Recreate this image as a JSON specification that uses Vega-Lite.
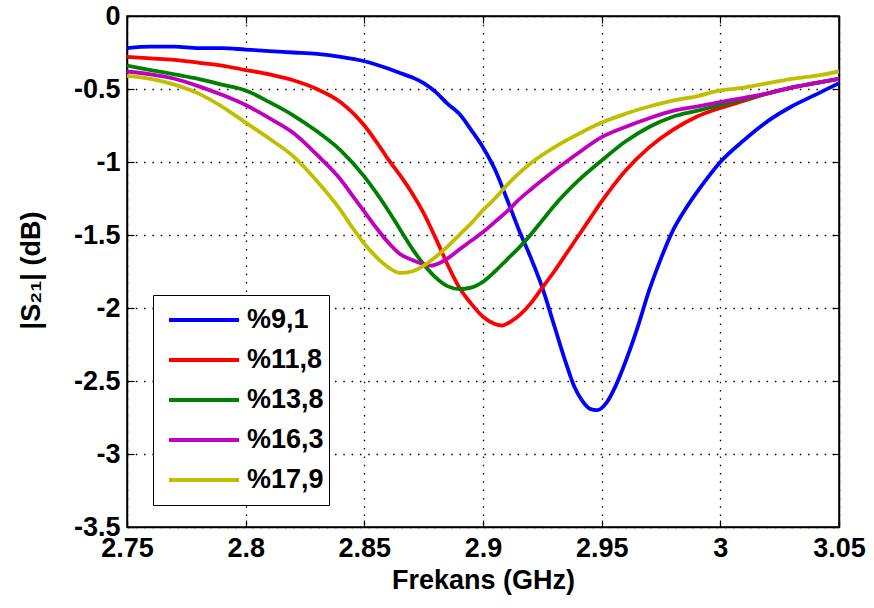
{
  "$schema": "https://vega.github.io/schema/vega-lite/v6.json",
  "width": 712,
  "height": 511,
  "autosize": "none",
  "padding": {"left": 127, "top": 16, "right": 35, "bottom": 81},
  "background": "white",
  "config": {
    "font": "Liberation Sans",
    "view": {"stroke": "#000", "strokeWidth": 1.5},
    "axis": {
      "domainColor": "#000",
      "domainWidth": 1.5,
      "tickColor": "#000",
      "tickWidth": 1.2,
      "labelColor": "#000",
      "titleColor": "#000",
      "labelFont": "Liberation Sans",
      "titleFont": "Liberation Sans",
      "labelFontSize": 27,
      "labelFontWeight": "bold",
      "titleFontSize": 27,
      "titleFontWeight": "bold",
      "gridColor": "#000",
      "gridOpacity": 1,
      "gridWidth": 1.3,
      "gridDash": [1.5, 6.8],
      "labelFlush": false,
      "labelOverlap": false
    }
  },
  "data": {
    "values": [
      {"s":"%9,1","f":2.75,"v":-0.22},{"s":"%9,1","f":2.76,"v":-0.21},{"s":"%9,1","f":2.77,"v":-0.21},{"s":"%9,1","f":2.78,"v":-0.22},{"s":"%9,1","f":2.79,"v":-0.22},{"s":"%9,1","f":2.8,"v":-0.23},{"s":"%9,1","f":2.81,"v":-0.24},{"s":"%9,1","f":2.82,"v":-0.25},{"s":"%9,1","f":2.83,"v":-0.26},{"s":"%9,1","f":2.84,"v":-0.28},{"s":"%9,1","f":2.85,"v":-0.31},{"s":"%9,1","f":2.86,"v":-0.36},{"s":"%9,1","f":2.865,"v":-0.39},{"s":"%9,1","f":2.87,"v":-0.42},{"s":"%9,1","f":2.875,"v":-0.46},{"s":"%9,1","f":2.88,"v":-0.52},{"s":"%9,1","f":2.885,"v":-0.6},{"s":"%9,1","f":2.89,"v":-0.67},{"s":"%9,1","f":2.895,"v":-0.78},{"s":"%9,1","f":2.9,"v":-0.9},{"s":"%9,1","f":2.905,"v":-1.05},{"s":"%9,1","f":2.91,"v":-1.25},{"s":"%9,1","f":2.915,"v":-1.46},{"s":"%9,1","f":2.92,"v":-1.65},{"s":"%9,1","f":2.925,"v":-1.86},{"s":"%9,1","f":2.93,"v":-2.12},{"s":"%9,1","f":2.935,"v":-2.38},{"s":"%9,1","f":2.9385,"v":-2.54},{"s":"%9,1","f":2.942,"v":-2.64},{"s":"%9,1","f":2.945,"v":-2.69},{"s":"%9,1","f":2.948,"v":-2.7},{"s":"%9,1","f":2.952,"v":-2.65},{"s":"%9,1","f":2.956,"v":-2.53},{"s":"%9,1","f":2.96,"v":-2.37},{"s":"%9,1","f":2.965,"v":-2.14},{"s":"%9,1","f":2.97,"v":-1.88},{"s":"%9,1","f":2.975,"v":-1.66},{"s":"%9,1","f":2.98,"v":-1.47},{"s":"%9,1","f":2.985,"v":-1.33},{"s":"%9,1","f":2.99,"v":-1.21},{"s":"%9,1","f":2.995,"v":-1.1},{"s":"%9,1","f":3.0,"v":-1.0},{"s":"%9,1","f":3.01,"v":-0.85},{"s":"%9,1","f":3.02,"v":-0.72},{"s":"%9,1","f":3.03,"v":-0.62},{"s":"%9,1","f":3.04,"v":-0.54},{"s":"%9,1","f":3.05,"v":-0.46},
      {"s":"%11,8","f":2.75,"v":-0.28},{"s":"%11,8","f":2.76,"v":-0.29},{"s":"%11,8","f":2.77,"v":-0.3},{"s":"%11,8","f":2.78,"v":-0.32},{"s":"%11,8","f":2.79,"v":-0.34},{"s":"%11,8","f":2.8,"v":-0.37},{"s":"%11,8","f":2.81,"v":-0.4},{"s":"%11,8","f":2.82,"v":-0.44},{"s":"%11,8","f":2.83,"v":-0.5},{"s":"%11,8","f":2.84,"v":-0.59},{"s":"%11,8","f":2.85,"v":-0.75},{"s":"%11,8","f":2.855,"v":-0.86},{"s":"%11,8","f":2.86,"v":-0.98},{"s":"%11,8","f":2.865,"v":-1.09},{"s":"%11,8","f":2.87,"v":-1.21},{"s":"%11,8","f":2.875,"v":-1.35},{"s":"%11,8","f":2.88,"v":-1.52},{"s":"%11,8","f":2.885,"v":-1.7},{"s":"%11,8","f":2.89,"v":-1.86},{"s":"%11,8","f":2.895,"v":-1.97},{"s":"%11,8","f":2.9,"v":-2.06},{"s":"%11,8","f":2.905,"v":-2.11},{"s":"%11,8","f":2.908,"v":-2.12},{"s":"%11,8","f":2.912,"v":-2.09},{"s":"%11,8","f":2.916,"v":-2.04},{"s":"%11,8","f":2.92,"v":-1.97},{"s":"%11,8","f":2.925,"v":-1.86},{"s":"%11,8","f":2.93,"v":-1.75},{"s":"%11,8","f":2.935,"v":-1.63},{"s":"%11,8","f":2.94,"v":-1.51},{"s":"%11,8","f":2.945,"v":-1.39},{"s":"%11,8","f":2.95,"v":-1.27},{"s":"%11,8","f":2.955,"v":-1.16},{"s":"%11,8","f":2.96,"v":-1.06},{"s":"%11,8","f":2.97,"v":-0.9},{"s":"%11,8","f":2.98,"v":-0.78},{"s":"%11,8","f":2.99,"v":-0.69},{"s":"%11,8","f":3.0,"v":-0.63},{"s":"%11,8","f":3.01,"v":-0.58},{"s":"%11,8","f":3.02,"v":-0.53},{"s":"%11,8","f":3.03,"v":-0.49},{"s":"%11,8","f":3.04,"v":-0.46},{"s":"%11,8","f":3.05,"v":-0.43},
      {"s":"%13,8","f":2.75,"v":-0.34},{"s":"%13,8","f":2.76,"v":-0.37},{"s":"%13,8","f":2.77,"v":-0.4},{"s":"%13,8","f":2.78,"v":-0.43},{"s":"%13,8","f":2.79,"v":-0.47},{"s":"%13,8","f":2.8,"v":-0.51},{"s":"%13,8","f":2.81,"v":-0.59},{"s":"%13,8","f":2.82,"v":-0.68},{"s":"%13,8","f":2.83,"v":-0.79},{"s":"%13,8","f":2.84,"v":-0.92},{"s":"%13,8","f":2.85,"v":-1.1},{"s":"%13,8","f":2.855,"v":-1.21},{"s":"%13,8","f":2.86,"v":-1.33},{"s":"%13,8","f":2.865,"v":-1.46},{"s":"%13,8","f":2.87,"v":-1.59},{"s":"%13,8","f":2.875,"v":-1.7},{"s":"%13,8","f":2.88,"v":-1.79},{"s":"%13,8","f":2.885,"v":-1.85},{"s":"%13,8","f":2.89,"v":-1.87},{"s":"%13,8","f":2.895,"v":-1.86},{"s":"%13,8","f":2.9,"v":-1.82},{"s":"%13,8","f":2.905,"v":-1.75},{"s":"%13,8","f":2.91,"v":-1.67},{"s":"%13,8","f":2.915,"v":-1.59},{"s":"%13,8","f":2.92,"v":-1.5},{"s":"%13,8","f":2.925,"v":-1.4},{"s":"%13,8","f":2.93,"v":-1.3},{"s":"%13,8","f":2.94,"v":-1.13},{"s":"%13,8","f":2.95,"v":-0.99},{"s":"%13,8","f":2.96,"v":-0.86},{"s":"%13,8","f":2.97,"v":-0.76},{"s":"%13,8","f":2.98,"v":-0.69},{"s":"%13,8","f":2.99,"v":-0.65},{"s":"%13,8","f":3.0,"v":-0.61},{"s":"%13,8","f":3.01,"v":-0.57},{"s":"%13,8","f":3.02,"v":-0.53},{"s":"%13,8","f":3.03,"v":-0.49},{"s":"%13,8","f":3.04,"v":-0.46},{"s":"%13,8","f":3.05,"v":-0.43},
      {"s":"%16,3","f":2.75,"v":-0.38},{"s":"%16,3","f":2.76,"v":-0.4},{"s":"%16,3","f":2.77,"v":-0.43},{"s":"%16,3","f":2.78,"v":-0.48},{"s":"%16,3","f":2.79,"v":-0.54},{"s":"%16,3","f":2.8,"v":-0.61},{"s":"%16,3","f":2.81,"v":-0.7},{"s":"%16,3","f":2.82,"v":-0.8},{"s":"%16,3","f":2.83,"v":-0.95},{"s":"%16,3","f":2.84,"v":-1.12},{"s":"%16,3","f":2.845,"v":-1.23},{"s":"%16,3","f":2.85,"v":-1.34},{"s":"%16,3","f":2.855,"v":-1.45},{"s":"%16,3","f":2.86,"v":-1.55},{"s":"%16,3","f":2.865,"v":-1.63},{"s":"%16,3","f":2.87,"v":-1.67},{"s":"%16,3","f":2.875,"v":-1.7},{"s":"%16,3","f":2.878,"v":-1.71},{"s":"%16,3","f":2.882,"v":-1.69},{"s":"%16,3","f":2.886,"v":-1.65},{"s":"%16,3","f":2.89,"v":-1.6},{"s":"%16,3","f":2.895,"v":-1.54},{"s":"%16,3","f":2.9,"v":-1.48},{"s":"%16,3","f":2.905,"v":-1.41},{"s":"%16,3","f":2.91,"v":-1.34},{"s":"%16,3","f":2.915,"v":-1.26},{"s":"%16,3","f":2.92,"v":-1.19},{"s":"%16,3","f":2.93,"v":-1.06},{"s":"%16,3","f":2.94,"v":-0.94},{"s":"%16,3","f":2.95,"v":-0.83},{"s":"%16,3","f":2.96,"v":-0.76},{"s":"%16,3","f":2.97,"v":-0.7},{"s":"%16,3","f":2.98,"v":-0.65},{"s":"%16,3","f":2.99,"v":-0.62},{"s":"%16,3","f":3.0,"v":-0.59},{"s":"%16,3","f":3.01,"v":-0.56},{"s":"%16,3","f":3.02,"v":-0.53},{"s":"%16,3","f":3.03,"v":-0.49},{"s":"%16,3","f":3.04,"v":-0.46},{"s":"%16,3","f":3.05,"v":-0.43},
      {"s":"%17,9","f":2.75,"v":-0.41},{"s":"%17,9","f":2.76,"v":-0.43},{"s":"%17,9","f":2.77,"v":-0.47},{"s":"%17,9","f":2.78,"v":-0.53},{"s":"%17,9","f":2.79,"v":-0.62},{"s":"%17,9","f":2.8,"v":-0.73},{"s":"%17,9","f":2.81,"v":-0.84},{"s":"%17,9","f":2.82,"v":-0.96},{"s":"%17,9","f":2.83,"v":-1.13},{"s":"%17,9","f":2.84,"v":-1.33},{"s":"%17,9","f":2.845,"v":-1.45},{"s":"%17,9","f":2.85,"v":-1.56},{"s":"%17,9","f":2.855,"v":-1.65},{"s":"%17,9","f":2.86,"v":-1.72},{"s":"%17,9","f":2.865,"v":-1.76},{"s":"%17,9","f":2.87,"v":-1.75},{"s":"%17,9","f":2.875,"v":-1.71},{"s":"%17,9","f":2.88,"v":-1.65},{"s":"%17,9","f":2.885,"v":-1.58},{"s":"%17,9","f":2.89,"v":-1.5},{"s":"%17,9","f":2.895,"v":-1.42},{"s":"%17,9","f":2.9,"v":-1.33},{"s":"%17,9","f":2.905,"v":-1.25},{"s":"%17,9","f":2.91,"v":-1.16},{"s":"%17,9","f":2.915,"v":-1.08},{"s":"%17,9","f":2.92,"v":-1.01},{"s":"%17,9","f":2.93,"v":-0.9},{"s":"%17,9","f":2.94,"v":-0.81},{"s":"%17,9","f":2.95,"v":-0.73},{"s":"%17,9","f":2.96,"v":-0.67},{"s":"%17,9","f":2.97,"v":-0.62},{"s":"%17,9","f":2.98,"v":-0.58},{"s":"%17,9","f":2.99,"v":-0.55},{"s":"%17,9","f":3.0,"v":-0.51},{"s":"%17,9","f":3.01,"v":-0.49},{"s":"%17,9","f":3.02,"v":-0.46},{"s":"%17,9","f":3.03,"v":-0.43},{"s":"%17,9","f":3.04,"v":-0.41},{"s":"%17,9","f":3.05,"v":-0.38}
    ]
  },
  "resolve": {"axis": {"x": "independent", "y": "independent"}},
  "layer": [
    {
      "mark": {"type": "line", "strokeWidth": 3.8, "clip": true, "interpolate": "monotone"},
      "encoding": {
        "x": {
          "field": "f", "type": "quantitative",
          "scale": {"domain": [2.75, 3.05], "nice": false, "zero": false},
          "axis": {
            "orient": "bottom",
            "values": [2.75, 2.8, 2.85, 2.9, 2.95, 3.0, 3.05],
            "labelExpr": "toString(datum.value)",
            "title": "Frekans (GHz)",
            "titleX": 356, "titleY": 53, "titleAlign": "center", "titleBaseline": "middle",
            "grid": true, "tickSize": -7, "labelPadding": 15, "labelBaseline": "top"
          }
        },
        "y": {
          "field": "v", "type": "quantitative",
          "scale": {"domain": [-3.5, 0], "nice": false, "zero": false},
          "axis": {
            "orient": "left",
            "values": [0, -0.5, -1, -1.5, -2, -2.5, -3, -3.5],
            "labelExpr": "toString(datum.value)",
            "title": "|S₂₁| (dB)",
            "titleX": -96, "titleY": 254, "titleAlign": "center", "titleBaseline": "middle", "titleAngle": -90,
            "grid": true, "tickSize": -7, "labelPadding": 14, "labelBaseline": "middle"
          }
        },
        "color": {
          "field": "s", "type": "nominal",
          "scale": {
            "domain": ["%9,1", "%11,8", "%13,8", "%16,3", "%17,9"],
            "range": ["#0000FF", "#FF0000", "#008000", "#BF00BF", "#BFBF00"]
          },
          "legend": {
            "orient": "none", "legendX": 26, "legendY": 279,
            "title": null,
            "symbolType": "stroke", "symbolSize": 4900, "symbolStrokeWidth": 4,
            "labelFontSize": 27, "labelFontWeight": "bold", "labelFont": "Liberation Sans", "labelColor": "#000",
            "labelOffset": 6, "padding": 5, "symbolOffset": 9, "clipHeight": 40, "rowPadding": 0,
            "strokeColor": "#000", "fillColor": "#fff"
          }
        }
      }
    },
    {
      "mark": {"type": "point", "opacity": 0},
      "encoding": {
        "x": {
          "field": "f", "type": "quantitative",
          "axis": {"orient": "top", "values": [2.75, 2.8, 2.85, 2.9, 2.95, 3.0, 3.05], "labels": false, "title": null, "grid": false, "tickSize": -7}
        },
        "y": {
          "field": "v", "type": "quantitative",
          "axis": {"orient": "right", "values": [0, -0.5, -1, -1.5, -2, -2.5, -3, -3.5], "labels": false, "title": null, "grid": false, "tickSize": -7}
        }
      }
    }
  ]
}
